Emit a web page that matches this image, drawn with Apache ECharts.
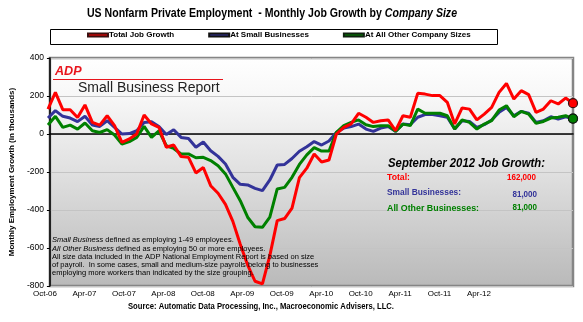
<!DOCTYPE html>
<html><head><meta charset="utf-8">
<script src="https://cdn.jsdelivr.net/npm/echarts@6/dist/echarts.min.js"></script>
<style>html,body{margin:0;padding:0;background:#fff}#c{width:583px;height:322px}</style>
</head><body><div id="c"></div>
<script>
// ---- data (monthly, Oct-06 .. Sep-12), thousands ----
const monthNames = ['Jan','Feb','Mar','Apr','May','Jun','Jul','Aug','Sep','Oct','Nov','Dec'];
const months = [];
for (let k = 0; k < 72; k++) { const m = (9 + k) % 12, y = 6 + Math.floor((9 + k) / 12); months.push(monthNames[m] + '-' + String(y).padStart(2, '0')); }
const xTickLabels = ['Oct-06','Apr-07','Oct-07','Apr-08','Oct-08','Apr-09','Oct-09','Apr-10','Oct-10','Apr-11','Oct-11','Apr-12'];
const totalJobs = [131,219,128,128,87,153,61,47,96,44,-44,-26,0,100,53,35,-70,-58,-119,-123,-205,-176,-272,-312,-370,-460,-580,-690,-775,-789,-640,-456,-445,-390,-230,-180,-105,-147,-137,0,35,53,109,88,61,70,74,18,96,88,214,210,202,202,167,53,137,131,74,105,140,219,266,184,228,207,114,131,175,158,189,162];
const smallBiz = [84,123,93,84,65,93,47,40,70,35,0,2,17,61,65,40,-3,22,-18,-24,-70,-42,-88,-118,-158,-228,-265,-268,-286,-298,-242,-163,-160,-129,-91,-67,-40,-58,-37,8,31,39,52,26,14,31,39,14,52,49,88,102,102,96,88,26,70,66,35,49,74,114,140,96,119,109,61,70,91,79,91,81];
const otherBiz = [47,93,35,47,26,58,17,8,23,-5,-53,-40,-18,40,-18,17,-62,-76,-105,-105,-125,-123,-140,-167,-210,-281,-351,-438,-488,-491,-438,-289,-281,-228,-160,-110,-72,-90,-90,9,44,61,74,49,39,44,44,14,52,44,131,109,109,109,96,26,74,61,26,52,70,126,149,91,119,105,56,66,84,88,96,81];
const seriesNames = ['Total Job Growth','At Small Businesses','At All Other Company Sizes'];
const yTicks = {min:-800, max:400, step:200};
const summaryTitle = 'September 2012 Job Growth:';
const summaryRows = [['Total:','162,000'],['Small Businesses:','81,000'],['All Other Businesses:','81,000']];

const FF = "'Liberation Sans',Arial,sans-serif";
const RED = '#ff0000', BLUE = '#333399', GREEN = '#008000';
const last = totalJobs.length - 1;
const endSym = (v, p) => p.dataIndex === last ? 9 : 0;

// horizontal squeeze to fit the reference's narrow lettering
const mctx = document.createElement('canvas').getContext('2d');
function textW(t, font){ mctx.font = font; return mctx.measureText(t).width; }
function fit(parts, target){ let w = 0; parts.forEach(p => w += textW(p[0], p[1])); return Math.min(1, target / w); }
function txt(x, y, text, font, fill, target, align){
  return {type:'text', x:x, y:y, scaleX: target ? fit([[text, font]], target) : 1, z:10,
    style:{text:text, font:font, fill:fill, textAlign:align||'left', textVerticalAlign:'middle'}};
}

const titleA = 'US Nonfarm Private Employment  - Monthly Job Growth by ', titleB = 'Company Size';
const fTA = 'bold 12.5px ' + FF, fTB = 'italic bold 12.5px ' + FF;
const fNote = '7.5px ' + FF;
const noteScale = fit([['All size data included in the ADP National Employment Report is based on size', fNote]], 272);
function note(y, italicPart, rest){
  const t = italicPart ? '{i|' + italicPart + '}' + rest : rest;
  return {type:'text', x:52, y:y, scaleX:noteScale, z:10,
    style:{text:t, font:fNote, fill:'#000', textVerticalAlign:'middle', rich:{i:{fontStyle:'italic', fontFamily:FF, fontSize:7.5}}}};
}
const fNum = 'bold 9px ' + FF;
const numScale = fit([[summaryRows[0][1], fNum]], 29);

const chart = echarts.init(document.getElementById('c'), null, {renderer:'canvas'});
const option = {
  animation:false,
  backgroundColor:'#fff',
  textStyle:{fontFamily:FF},
  legend:{
    data:seriesNames, left:87, top:31, padding:0, itemGap:34,
    itemWidth:20, itemHeight:3, icon:'rect',
    textStyle:{fontFamily:FF,fontWeight:'bold',fontSize:8,color:'#000',padding:[0,0,0,-4]}
  },
  grid:[
    {left:48, right:10, top:58, bottom:36},
    {left:43, right:10, top:58, bottom:36, show:true, borderColor:'#858585', borderWidth:2.5,
      backgroundColor:new echarts.graphic.LinearGradient(0,0,0,1,[{offset:0,color:'#ffffff'},{offset:0.18,color:'#f7f7f7'},{offset:0.5,color:'#e0e0e0'},{offset:1,color:'#b9b9b9'}])},
    {left:45, width:434, top:58, bottom:36}
  ],
  xAxis:[
    {gridIndex:0, type:'category', data:months, boundaryGap:false, show:false},
    {gridIndex:1, type:'value', min:0, max:1, axisLine:{show:true,onZero:true,lineStyle:{color:'#000',width:1.5}}, axisTick:{show:false}, axisLabel:{show:false}, splitLine:{show:false}},
    {gridIndex:2, type:'category', data:xTickLabels, boundaryGap:false, axisLine:{show:false}, axisTick:{show:false},
      axisLabel:{interval:0, fontFamily:FF, fontSize:8, color:'#000', margin:4}}
  ],
  yAxis:[
    {gridIndex:0, type:'value', min:yTicks.min, max:yTicks.max, interval:yTicks.step, show:false},
    {gridIndex:1, type:'value', min:yTicks.min, max:yTicks.max, interval:yTicks.step,
      axisLine:{show:true,lineStyle:{color:'#000',width:1.5}}, axisTick:{show:true,length:3,lineStyle:{color:'#000'}},
      axisLabel:{fontFamily:FF,fontSize:8.5,color:'#000',margin:6},
      splitLine:{show:true,lineStyle:{color:'#c4c4c4',width:1}},
      name:'Monthly Employment Growth (in thousands)', nameLocation:'middle', nameGap:29,
      nameTextStyle:{fontFamily:FF,fontWeight:'bold',fontSize:8,color:'#000'}},
    {gridIndex:2, type:'value', show:false}
  ],
  series:[
    {name:seriesNames[0], type:'line', xAxisIndex:0, yAxisIndex:0, data:totalJobs, z:5,
      symbol:'circle', symbolSize:endSym, showSymbol:true, lineStyle:{color:RED,width:3}, itemStyle:{color:RED,borderColor:'#3a1010',borderWidth:1.2}, color:RED},
    {name:seriesNames[1], type:'line', xAxisIndex:0, yAxisIndex:0, data:smallBiz, z:3,
      symbol:'circle', symbolSize:endSym, showSymbol:true, lineStyle:{color:BLUE,width:3}, itemStyle:{color:BLUE,borderColor:'#111',borderWidth:1.2}, color:BLUE},
    {name:seriesNames[2], type:'line', xAxisIndex:0, yAxisIndex:0, data:otherBiz, z:4,
      symbol:'circle', symbolSize:endSym, showSymbol:true, lineStyle:{color:GREEN,width:3}, itemStyle:{color:GREEN,borderColor:'#102010',borderWidth:1.2}, color:GREEN}
  ],
  graphic:[
    {type:'text', x:87, y:14, scaleX:fit([[titleA,fTA],[titleB,fTB]], 370), z:10,
      style:{text:'{a|'+titleA+'}{b|'+titleB+'}', textVerticalAlign:'middle',
        rich:{a:{fontFamily:FF,fontWeight:'bold',fontSize:12.5,color:'#000'}, b:{fontFamily:FF,fontWeight:'bold',fontStyle:'italic',fontSize:12.5,color:'#000'}}}},
    {type:'rect', shape:{x:50.5,y:29.5,width:447,height:15}, style:{fill:'none',stroke:'#000',lineWidth:1}, z:10},
    {type:'text', x:55, y:72, scaleX:1.05, style:{text:'ADP', fill:'#e8141c', font:"italic bold 12px "+FF, textVerticalAlign:'middle'}, z:10},
    {type:'line', shape:{x1:53,y1:79.5,x2:223,y2:79.5}, style:{stroke:'#e8141c',lineWidth:1}, z:10},
    txt(78, 88, 'Small Business Report', '14px ' + FF, '#222', 147),
    txt(388, 164, summaryTitle, 'italic bold 12px ' + FF, '#000', 157),
    txt(387, 178, summaryRows[0][0], fNum, RED, 23),
    {type:'text', x:536, y:178, scaleX:numScale, z:10, style:{text:summaryRows[0][1], font:fNum, fill:RED, textAlign:'right', textVerticalAlign:'middle'}},
    txt(387, 193, summaryRows[1][0], fNum, BLUE, 74),
    {type:'text', x:537, y:195, scaleX:numScale, z:10, style:{text:summaryRows[1][1], font:fNum, fill:BLUE, textAlign:'right', textVerticalAlign:'middle'}},
    txt(387, 209, summaryRows[2][0], fNum, GREEN, 92),
    {type:'text', x:537, y:208, scaleX:numScale, z:10, style:{text:summaryRows[2][1], font:fNum, fill:GREEN, textAlign:'right', textVerticalAlign:'middle'}},
    note(240, 'Small Business', ' defined as employing 1-49 employees.'),
    note(249, 'All Other Business', ' defined as employing 50 or more employees.'),
    note(257, '', 'All size data included in the ADP National Employment Report is based on size'),
    note(265, '', 'of payroll.  In some cases, small and medium-size payrolls belong to businesses'),
    note(273, '', 'employing more workers than indicated by the size grouping.'),
    txt(261, 307, 'Source: Automatic Data Processing, Inc., Macroeconomic Advisers, LLC.', 'bold 8.5px ' + FF, '#000', 266, 'center')
  ]
};
chart.setOption(option);
</script></body></html>
